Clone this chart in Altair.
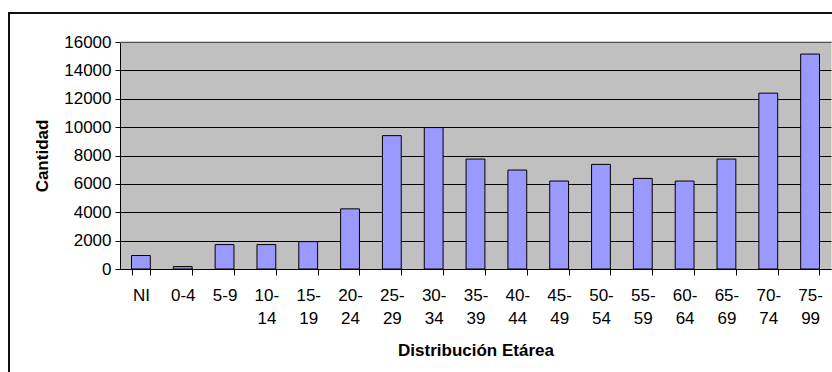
import altair as alt
import pandas as pd

# Age groups and case counts
grupos = ["NI", "0-4", "5-9", "10-14", "15-19", "20-24", "25-29", "30-34", "35-39",
          "40-44", "45-49", "50-54", "55-59", "60-64", "65-69", "70-74", "75-99"]
cantidad = [950, 170, 1720, 1720, 1930, 4240, 9400, 9970, 7750,
            6975, 6200, 7375, 6385, 6200, 7750, 12395, 15150]
y_ticks = [0, 2000, 4000, 6000, 8000, 10000, 12000, 14000, 16000]

df = pd.DataFrame({"grupo": grupos, "cantidad": cantidad})
FONT = "Liberation Sans"

bars = alt.Chart(df).mark_bar(
    color="#9999FF", stroke="black", strokeWidth=1
).encode(
    x=alt.X(
        "grupo:N",
        sort=grupos,
        scale=alt.Scale(paddingInner=0.55, paddingOuter=0.275),
        axis=alt.Axis(
            title="Distribución Etárea",
            labelAngle=0,
            labelExpr="length(datum.label) > 3 ? [slice(datum.label, 0, 3), slice(datum.label, 3)] : datum.label",
            labelLineHeight=23,
            labelPadding=12,
            tickBand="extent",
            tickSize=6,
            tickColor="black",
            domainColor="black",
            titlePadding=16,
        ),
    ),
    y=alt.Y(
        "cantidad:Q",
        scale=alt.Scale(domain=[0, 16000], nice=False),
        axis=alt.Axis(
            title="Cantidad",
            values=y_ticks,
            format="d",
            tickSize=5,
            tickColor="black",
            domainColor="black",
            gridColor="black",
            gridOpacity=1,
            labelPadding=4,
            titlePadding=12,
        ),
    ),
)

one = pd.DataFrame({"k": [0]})

# Grey top edge of the plot area
plot_top = alt.Chart(one).mark_rule(color="#A0A0A0", strokeWidth=1).encode(
    x=alt.value(0), x2=alt.value(712), y=alt.value(0)
)

# Outer chart frame (top and left edges)
frame_top = alt.Chart(one).mark_rule(color="#111111", strokeWidth=2).encode(
    x=alt.value(-111), x2=alt.value(720), y=alt.value(-29)
)
frame_left = alt.Chart(one).mark_rule(color="#111111", strokeWidth=2).encode(
    x=alt.value(-111), y=alt.value(-30), y2=alt.value(340)
)

chart = alt.layer(bars, plot_top, frame_top, frame_left).properties(
    width=711,
    height=227,
    padding={"left": 120, "top": 42, "right": 1, "bottom": 103},
    autosize=alt.AutoSizeParams(type="none"),
    background="white",
).configure_view(
    fill="#C0C0C0", stroke="transparent"
).configure_axis(
    labelFont=FONT, labelFontSize=17, labelColor="black",
    titleFont=FONT, titleFontSize=17, titleFontWeight="bold", titleColor="black",
    grid=False,
).configure_axisY(grid=True)

chart.save("out.html", embed_options={"renderer": "svg", "actions": False})
